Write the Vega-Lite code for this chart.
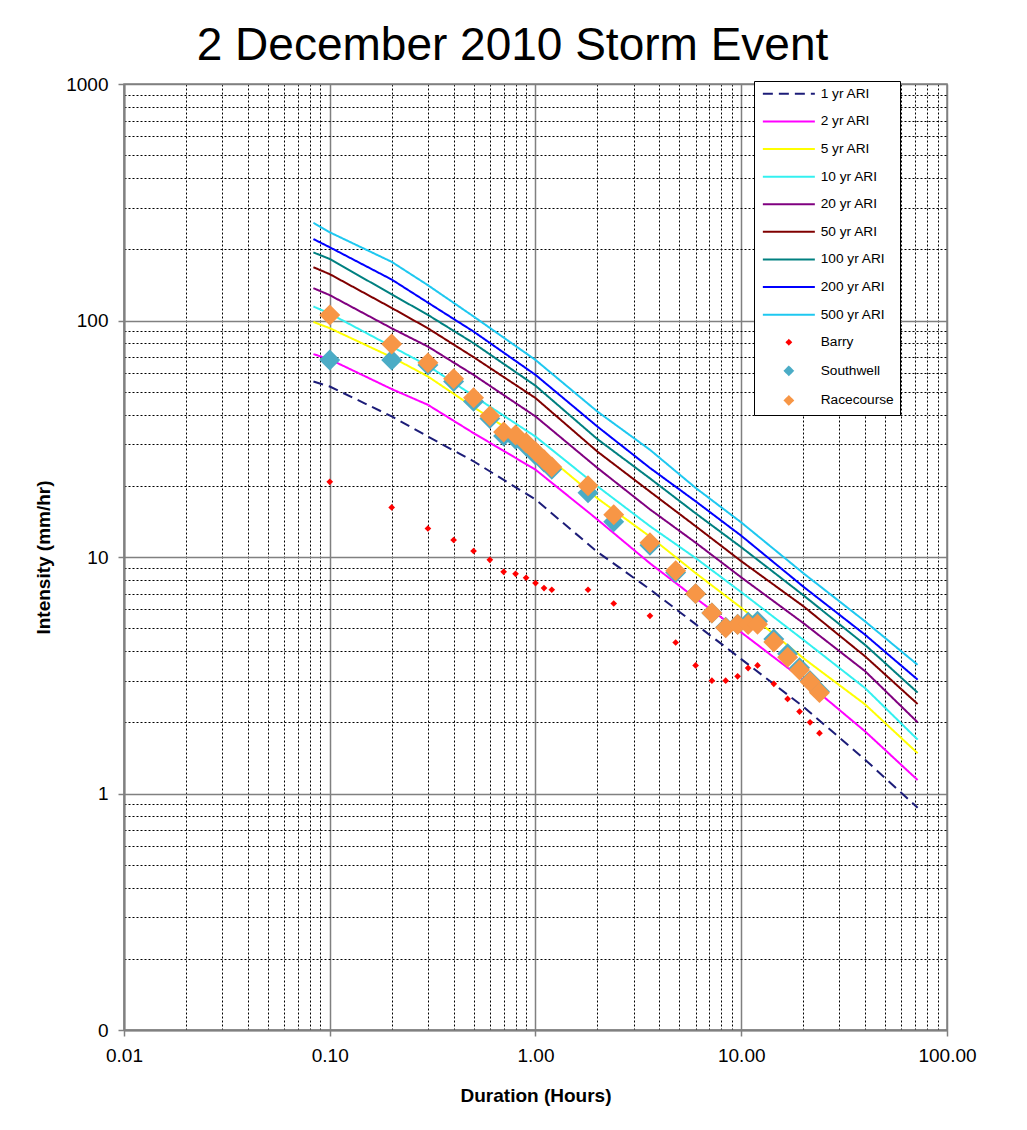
{
  "$schema": "https://vega.github.io/schema/vega-lite/v6.json",
  "autosize": {"type": "none"},
  "padding": {"left": 124, "top": 84, "right": 80, "bottom": 100},
  "width": 823,
  "height": 946,
  "background": "#ffffff",
  "config": {
    "font": "Liberation Sans",
    "view": {"stroke": "#808080", "strokeWidth": 1.5}
  },
  "title": {
    "text": "2 December 2010 Storm Event",
    "anchor": "middle",
    "fontSize": 46,
    "fontWeight": "normal",
    "color": "#000000",
    "font": "Liberation Sans",
    "dx": -23,
    "offset": 5
  },
  "datasets": {
    "ifd": [
      {"series": "1 yr ARI", "duration": 0.0833, "intensity": 55.2},
      {"series": "1 yr ARI", "duration": 0.1, "intensity": 52.6},
      {"series": "1 yr ARI", "duration": 0.2, "intensity": 39.3},
      {"series": "1 yr ARI", "duration": 0.3, "intensity": 32.3},
      {"series": "1 yr ARI", "duration": 0.5, "intensity": 25.4},
      {"series": "1 yr ARI", "duration": 1, "intensity": 17.5},
      {"series": "1 yr ARI", "duration": 2, "intensity": 10.5},
      {"series": "1 yr ARI", "duration": 3.6, "intensity": 7.3},
      {"series": "1 yr ARI", "duration": 6, "intensity": 5.2},
      {"series": "1 yr ARI", "duration": 10, "intensity": 3.7},
      {"series": "1 yr ARI", "duration": 20, "intensity": 2.33},
      {"series": "1 yr ARI", "duration": 40, "intensity": 1.39},
      {"series": "1 yr ARI", "duration": 72, "intensity": 0.87},
      {"series": "2 yr ARI", "duration": 0.0833, "intensity": 72.1},
      {"series": "2 yr ARI", "duration": 0.1, "intensity": 68.5},
      {"series": "2 yr ARI", "duration": 0.2, "intensity": 51.3},
      {"series": "2 yr ARI", "duration": 0.3, "intensity": 44},
      {"series": "2 yr ARI", "duration": 0.5, "intensity": 33.4},
      {"series": "2 yr ARI", "duration": 1, "intensity": 23.4},
      {"series": "2 yr ARI", "duration": 2, "intensity": 14.4},
      {"series": "2 yr ARI", "duration": 3.6, "intensity": 9.4},
      {"series": "2 yr ARI", "duration": 6, "intensity": 6.7},
      {"series": "2 yr ARI", "duration": 10, "intensity": 4.8},
      {"series": "2 yr ARI", "duration": 20, "intensity": 3.03},
      {"series": "2 yr ARI", "duration": 40, "intensity": 1.83},
      {"series": "2 yr ARI", "duration": 72, "intensity": 1.14},
      {"series": "5 yr ARI", "duration": 0.0833, "intensity": 98.6},
      {"series": "5 yr ARI", "duration": 0.1, "intensity": 92.8},
      {"series": "5 yr ARI", "duration": 0.2, "intensity": 70},
      {"series": "5 yr ARI", "duration": 0.3, "intensity": 58},
      {"series": "5 yr ARI", "duration": 0.5, "intensity": 43},
      {"series": "5 yr ARI", "duration": 1, "intensity": 29.3},
      {"series": "5 yr ARI", "duration": 2, "intensity": 17.7},
      {"series": "5 yr ARI", "duration": 3.6, "intensity": 12.2},
      {"series": "5 yr ARI", "duration": 6, "intensity": 8.55},
      {"series": "5 yr ARI", "duration": 10, "intensity": 6.1},
      {"series": "5 yr ARI", "duration": 20, "intensity": 3.74},
      {"series": "5 yr ARI", "duration": 40, "intensity": 2.38},
      {"series": "5 yr ARI", "duration": 72, "intensity": 1.48},
      {"series": "10 yr ARI", "duration": 0.0833, "intensity": 114.6},
      {"series": "10 yr ARI", "duration": 0.1, "intensity": 107},
      {"series": "10 yr ARI", "duration": 0.2, "intensity": 77.6},
      {"series": "10 yr ARI", "duration": 0.3, "intensity": 64.4},
      {"series": "10 yr ARI", "duration": 0.5, "intensity": 48},
      {"series": "10 yr ARI", "duration": 1, "intensity": 32.3},
      {"series": "10 yr ARI", "duration": 2, "intensity": 19.9},
      {"series": "10 yr ARI", "duration": 3.6, "intensity": 13.5},
      {"series": "10 yr ARI", "duration": 6, "intensity": 9.9},
      {"series": "10 yr ARI", "duration": 10, "intensity": 7.1},
      {"series": "10 yr ARI", "duration": 20, "intensity": 4.47},
      {"series": "10 yr ARI", "duration": 40, "intensity": 2.79},
      {"series": "10 yr ARI", "duration": 72, "intensity": 1.69},
      {"series": "20 yr ARI", "duration": 0.0833, "intensity": 137},
      {"series": "20 yr ARI", "duration": 0.1, "intensity": 128},
      {"series": "20 yr ARI", "duration": 0.2, "intensity": 92.7},
      {"series": "20 yr ARI", "duration": 0.3, "intensity": 77.6},
      {"series": "20 yr ARI", "duration": 0.5, "intensity": 58.9},
      {"series": "20 yr ARI", "duration": 1, "intensity": 39.3},
      {"series": "20 yr ARI", "duration": 2, "intensity": 23.8},
      {"series": "20 yr ARI", "duration": 3.6, "intensity": 15.9},
      {"series": "20 yr ARI", "duration": 6, "intensity": 11.5},
      {"series": "20 yr ARI", "duration": 10, "intensity": 8.2},
      {"series": "20 yr ARI", "duration": 20, "intensity": 5.26},
      {"series": "20 yr ARI", "duration": 40, "intensity": 3.29},
      {"series": "20 yr ARI", "duration": 72, "intensity": 2.0},
      {"series": "50 yr ARI", "duration": 0.0833, "intensity": 168},
      {"series": "50 yr ARI", "duration": 0.1, "intensity": 157},
      {"series": "50 yr ARI", "duration": 0.2, "intensity": 113},
      {"series": "50 yr ARI", "duration": 0.3, "intensity": 92.7},
      {"series": "50 yr ARI", "duration": 0.5, "intensity": 70},
      {"series": "50 yr ARI", "duration": 1, "intensity": 47},
      {"series": "50 yr ARI", "duration": 2, "intensity": 27.9},
      {"series": "50 yr ARI", "duration": 3.6, "intensity": 18.9},
      {"series": "50 yr ARI", "duration": 6, "intensity": 13.5},
      {"series": "50 yr ARI", "duration": 10, "intensity": 9.6},
      {"series": "50 yr ARI", "duration": 20, "intensity": 6.2},
      {"series": "50 yr ARI", "duration": 40, "intensity": 3.8},
      {"series": "50 yr ARI", "duration": 72, "intensity": 2.39},
      {"series": "100 yr ARI", "duration": 0.0833, "intensity": 194},
      {"series": "100 yr ARI", "duration": 0.1, "intensity": 182},
      {"series": "100 yr ARI", "duration": 0.2, "intensity": 129},
      {"series": "100 yr ARI", "duration": 0.3, "intensity": 105.6},
      {"series": "100 yr ARI", "duration": 0.5, "intensity": 80.2},
      {"series": "100 yr ARI", "duration": 1, "intensity": 53},
      {"series": "100 yr ARI", "duration": 2, "intensity": 31.5},
      {"series": "100 yr ARI", "duration": 3.6, "intensity": 21.5},
      {"series": "100 yr ARI", "duration": 6, "intensity": 15.3},
      {"series": "100 yr ARI", "duration": 10, "intensity": 11.0},
      {"series": "100 yr ARI", "duration": 20, "intensity": 6.9},
      {"series": "100 yr ARI", "duration": 40, "intensity": 4.25},
      {"series": "100 yr ARI", "duration": 72, "intensity": 2.67},
      {"series": "200 yr ARI", "duration": 0.0833, "intensity": 221},
      {"series": "200 yr ARI", "duration": 0.1, "intensity": 204},
      {"series": "200 yr ARI", "duration": 0.2, "intensity": 149},
      {"series": "200 yr ARI", "duration": 0.3, "intensity": 119},
      {"series": "200 yr ARI", "duration": 0.5, "intensity": 89.8},
      {"series": "200 yr ARI", "duration": 1, "intensity": 58.9},
      {"series": "200 yr ARI", "duration": 2, "intensity": 35.6},
      {"series": "200 yr ARI", "duration": 3.6, "intensity": 23.8},
      {"series": "200 yr ARI", "duration": 6, "intensity": 17.2},
      {"series": "200 yr ARI", "duration": 10, "intensity": 12.3},
      {"series": "200 yr ARI", "duration": 20, "intensity": 7.5},
      {"series": "200 yr ARI", "duration": 40, "intensity": 4.69},
      {"series": "200 yr ARI", "duration": 72, "intensity": 3.03},
      {"series": "500 yr ARI", "duration": 0.0833, "intensity": 259},
      {"series": "500 yr ARI", "duration": 0.1, "intensity": 236},
      {"series": "500 yr ARI", "duration": 0.2, "intensity": 177},
      {"series": "500 yr ARI", "duration": 0.3, "intensity": 141},
      {"series": "500 yr ARI", "duration": 0.5, "intensity": 104},
      {"series": "500 yr ARI", "duration": 1, "intensity": 68.1},
      {"series": "500 yr ARI", "duration": 2, "intensity": 41.2},
      {"series": "500 yr ARI", "duration": 3.6, "intensity": 28.4},
      {"series": "500 yr ARI", "duration": 6, "intensity": 19.6},
      {"series": "500 yr ARI", "duration": 10, "intensity": 14.0},
      {"series": "500 yr ARI", "duration": 20, "intensity": 8.55},
      {"series": "500 yr ARI", "duration": 40, "intensity": 5.34},
      {"series": "500 yr ARI", "duration": 72, "intensity": 3.5}
    ],
    "barry": [
      {"series": "Barry", "duration": 0.1, "intensity": 20.8},
      {"series": "Barry", "duration": 0.2, "intensity": 16.2},
      {"series": "Barry", "duration": 0.3, "intensity": 13.2},
      {"series": "Barry", "duration": 0.4, "intensity": 11.8},
      {"series": "Barry", "duration": 0.5, "intensity": 10.6},
      {"series": "Barry", "duration": 0.6, "intensity": 9.73},
      {"series": "Barry", "duration": 0.7, "intensity": 8.66},
      {"series": "Barry", "duration": 0.8, "intensity": 8.49},
      {"series": "Barry", "duration": 0.9, "intensity": 8.17},
      {"series": "Barry", "duration": 1.0, "intensity": 7.76},
      {"series": "Barry", "duration": 1.1, "intensity": 7.39},
      {"series": "Barry", "duration": 1.2, "intensity": 7.27},
      {"series": "Barry", "duration": 1.8, "intensity": 7.27},
      {"series": "Barry", "duration": 2.4, "intensity": 6.36},
      {"series": "Barry", "duration": 3.6, "intensity": 5.64},
      {"series": "Barry", "duration": 4.8, "intensity": 4.35},
      {"series": "Barry", "duration": 6.0, "intensity": 3.48},
      {"series": "Barry", "duration": 7.2, "intensity": 3.0},
      {"series": "Barry", "duration": 8.4, "intensity": 3.0},
      {"series": "Barry", "duration": 9.6, "intensity": 3.13},
      {"series": "Barry", "duration": 10.8, "intensity": 3.39},
      {"series": "Barry", "duration": 12.0, "intensity": 3.48},
      {"series": "Barry", "duration": 14.4, "intensity": 2.91},
      {"series": "Barry", "duration": 16.8, "intensity": 2.51},
      {"series": "Barry", "duration": 19.2, "intensity": 2.22},
      {"series": "Barry", "duration": 21.6, "intensity": 2.0},
      {"series": "Barry", "duration": 24.0, "intensity": 1.8}
    ],
    "stations": [
      {"series": "Southwell", "duration": 0.1, "intensity": 68},
      {"series": "Southwell", "duration": 0.2, "intensity": 68},
      {"series": "Southwell", "duration": 0.3, "intensity": 64.9},
      {"series": "Southwell", "duration": 0.4, "intensity": 55.2},
      {"series": "Southwell", "duration": 0.5, "intensity": 45.5},
      {"series": "Southwell", "duration": 0.6, "intensity": 38.5},
      {"series": "Southwell", "duration": 0.7, "intensity": 32.5},
      {"series": "Southwell", "duration": 0.8, "intensity": 31.5},
      {"series": "Southwell", "duration": 0.9, "intensity": 29.5},
      {"series": "Southwell", "duration": 1.0, "intensity": 27},
      {"series": "Southwell", "duration": 1.1, "intensity": 25.2},
      {"series": "Southwell", "duration": 1.2, "intensity": 23.5},
      {"series": "Southwell", "duration": 1.8, "intensity": 18.7},
      {"series": "Southwell", "duration": 2.4, "intensity": 14.1},
      {"series": "Southwell", "duration": 3.6, "intensity": 11.2},
      {"series": "Southwell", "duration": 4.8, "intensity": 8.6},
      {"series": "Southwell", "duration": 6.0, "intensity": 7.0},
      {"series": "Southwell", "duration": 7.2, "intensity": 5.8},
      {"series": "Southwell", "duration": 8.4, "intensity": 5.05},
      {"series": "Southwell", "duration": 9.6, "intensity": 5.2},
      {"series": "Southwell", "duration": 10.8, "intensity": 5.3},
      {"series": "Southwell", "duration": 12.0, "intensity": 5.35},
      {"series": "Southwell", "duration": 14.4, "intensity": 4.5},
      {"series": "Southwell", "duration": 16.8, "intensity": 3.9},
      {"series": "Southwell", "duration": 19.2, "intensity": 3.4},
      {"series": "Southwell", "duration": 21.6, "intensity": 3.0},
      {"series": "Southwell", "duration": 24.0, "intensity": 2.7},
      {"series": "Racecourse", "duration": 0.1, "intensity": 105.6},
      {"series": "Racecourse", "duration": 0.2, "intensity": 79.6},
      {"series": "Racecourse", "duration": 0.3, "intensity": 66.2},
      {"series": "Racecourse", "duration": 0.4, "intensity": 56.7},
      {"series": "Racecourse", "duration": 0.5, "intensity": 47.1},
      {"series": "Racecourse", "duration": 0.6, "intensity": 39.5},
      {"series": "Racecourse", "duration": 0.7, "intensity": 33.8},
      {"series": "Racecourse", "duration": 0.8, "intensity": 32.8},
      {"series": "Racecourse", "duration": 0.9, "intensity": 30.4},
      {"series": "Racecourse", "duration": 1.0, "intensity": 27.9},
      {"series": "Racecourse", "duration": 1.1, "intensity": 25.8},
      {"series": "Racecourse", "duration": 1.2, "intensity": 24.0},
      {"series": "Racecourse", "duration": 1.8, "intensity": 20.0},
      {"series": "Racecourse", "duration": 2.4, "intensity": 15.1},
      {"series": "Racecourse", "duration": 3.6, "intensity": 11.5},
      {"series": "Racecourse", "duration": 4.8, "intensity": 8.75},
      {"series": "Racecourse", "duration": 6.0, "intensity": 7.0},
      {"series": "Racecourse", "duration": 7.2, "intensity": 5.8},
      {"series": "Racecourse", "duration": 8.4, "intensity": 5.02},
      {"series": "Racecourse", "duration": 9.6, "intensity": 5.18},
      {"series": "Racecourse", "duration": 10.8, "intensity": 5.18},
      {"series": "Racecourse", "duration": 12.0, "intensity": 5.2},
      {"series": "Racecourse", "duration": 14.4, "intensity": 4.37},
      {"series": "Racecourse", "duration": 16.8, "intensity": 3.77},
      {"series": "Racecourse", "duration": 19.2, "intensity": 3.33},
      {"series": "Racecourse", "duration": 21.6, "intensity": 2.97},
      {"series": "Racecourse", "duration": 24.0, "intensity": 2.67}
    ]
  },
  "encoding": {
    "x": {
      "field": "duration",
      "type": "quantitative",
      "title": "Duration (Hours)",
      "scale": {"type": "log", "domain": [0.01, 100], "nice": false},
      "axis": {
        "values": [0.01, 0.02, 0.03, 0.04, 0.05, 0.06, 0.07, 0.08, 0.09, 0.1, 0.2, 0.3, 0.4, 0.5, 0.6, 0.7, 0.8, 0.9, 1, 2, 3, 4, 5, 6, 7, 8, 9, 10, 20, 30, 40, 50, 60, 70, 80, 90, 100],
        "labelExpr": "abs(log(datum.value)/LN10 - round(log(datum.value)/LN10)) < 0.001 ? format(datum.value, '.2f') : ''",
        "grid": true,
        "gridColor": {"condition": {"test": "abs(log(datum.value)/LN10 - round(log(datum.value)/LN10)) < 0.001", "value": "#808080"}, "value": "#000000"},
        "gridDash": {"condition": {"test": "abs(log(datum.value)/LN10 - round(log(datum.value)/LN10)) < 0.001", "value": []}, "value": [2, 2]},
        "gridWidth": {"condition": {"test": "abs(log(datum.value)/LN10 - round(log(datum.value)/LN10)) < 0.001", "value": 1.5}, "value": 1},
        "gridOpacity": 1,
        "tickColor": {"condition": {"test": "abs(log(datum.value)/LN10 - round(log(datum.value)/LN10)) < 0.001", "value": "#808080"}, "value": "transparent"},
        "tickSize": 6,
        "tickWidth": 1.5,
        "domainColor": "#808080",
        "domainWidth": 2,
        "labelFontSize": 19,
        "labelColor": "#000000",
        "labelPadding": 10,
        "labelFlush": false,
        "labelOverlap": false,
        "labelBound": false,
        "titleFontSize": 19,
        "titleFontWeight": "bold",
        "titleColor": "#000000",
        "titlePadding": 21
      }
    },
    "y": {
      "field": "intensity",
      "type": "quantitative",
      "title": "Intensity (mm/hr)",
      "scale": {"type": "log", "domain": [0.1, 1000], "nice": false},
      "axis": {
        "values": [0.1, 0.2, 0.3, 0.4, 0.5, 0.6, 0.7, 0.8, 0.9, 1, 2, 3, 4, 5, 6, 7, 8, 9, 10, 20, 30, 40, 50, 60, 70, 80, 90, 100, 200, 300, 400, 500, 600, 700, 800, 900, 1000],
        "labelExpr": "abs(log(datum.value)/LN10 - round(log(datum.value)/LN10)) < 0.001 ? (datum.value < 0.5 ? '0' : format(datum.value, 'd')) : ''",
        "grid": true,
        "gridColor": {"condition": {"test": "abs(log(datum.value)/LN10 - round(log(datum.value)/LN10)) < 0.001", "value": "#808080"}, "value": "#000000"},
        "gridDash": {"condition": {"test": "abs(log(datum.value)/LN10 - round(log(datum.value)/LN10)) < 0.001", "value": []}, "value": [2, 2]},
        "gridWidth": {"condition": {"test": "abs(log(datum.value)/LN10 - round(log(datum.value)/LN10)) < 0.001", "value": 1.5}, "value": 1},
        "gridOpacity": 1,
        "tickColor": {"condition": {"test": "abs(log(datum.value)/LN10 - round(log(datum.value)/LN10)) < 0.001", "value": "#808080"}, "value": "transparent"},
        "tickSize": 6,
        "tickWidth": 1.5,
        "domainColor": "#808080",
        "domainWidth": 2,
        "labelFontSize": 19,
        "labelColor": "#000000",
        "labelPadding": 10,
        "labelFlush": false,
        "labelOverlap": false,
        "labelBound": false,
        "titleFontSize": 19,
        "titleFontWeight": "bold",
        "titleColor": "#000000",
        "titlePadding": 12
      }
    },
    "color": {
      "field": "series",
      "type": "nominal",
      "scale": {
        "domain": ["1 yr ARI", "2 yr ARI", "5 yr ARI", "10 yr ARI", "20 yr ARI", "50 yr ARI", "100 yr ARI", "200 yr ARI", "500 yr ARI", "Barry", "Southwell", "Racecourse"],
        "range": ["#1c1c78", "#ff00ff", "#ffff00", "#33f0f0", "#800080", "#800000", "#008080", "#0000ff", "#1ec8f0", "#ff0000", "#4bacc6", "#f79646"]
      },
      "legend": {
        "title": null,
        "orient": "none",
        "legendX": 630,
        "legendY": -3,
        "fillColor": "#ffffff",
        "strokeColor": "#000000",
        "padding": 6,
        "labelFont": "Liberation Sans",
        "labelFontSize": 13.7,
        "labelColor": "#000000",
        "labelLimit": 200,
        "symbolSize": 64,
        "symbolStrokeWidth": 2,
        "symbolOpacity": 1,
        "symbolOffset": 22,
        "labelOffset": 25,
        "rowPadding": 12.6
      }
    }
  },
  "layer": [
    {
      "data": {"name": "ifd"},
      "mark": {"type": "line", "strokeWidth": 2},
      "encoding": {
        "strokeDash": {
          "field": "series",
          "type": "nominal",
          "scale": {
            "domain": ["1 yr ARI", "2 yr ARI", "5 yr ARI", "10 yr ARI", "20 yr ARI", "50 yr ARI", "100 yr ARI", "200 yr ARI", "500 yr ARI", "Barry", "Southwell", "Racecourse"],
            "range": [[10, 6], [1, 0], [1, 0], [1, 0], [1, 0], [1, 0], [1, 0], [1, 0], [1, 0], [1, 0], [1, 0], [1, 0]]
          }
        }
      }
    },
    {
      "data": {"name": "barry"},
      "mark": {"type": "point", "filled": true, "opacity": 1, "size": 180},
      "encoding": {
        "shape": {
          "field": "series",
          "type": "nominal",
          "scale": {
            "domain": ["1 yr ARI", "2 yr ARI", "5 yr ARI", "10 yr ARI", "20 yr ARI", "50 yr ARI", "100 yr ARI", "200 yr ARI", "500 yr ARI", "Barry", "Southwell", "Racecourse"],
            "range": ["M-6.5,0H6.5", "M-6.5,0H6.5", "M-6.5,0H6.5", "M-6.5,0H6.5", "M-6.5,0H6.5", "M-6.5,0H6.5", "M-6.5,0H6.5", "M-6.5,0H6.5", "M-6.5,0H6.5", "M-0.5,0L0,-0.5L0.5,0L0,0.5Z", "diamond", "diamond"]
          }
        }
      }
    },
    {
      "data": {"name": "stations"},
      "mark": {"type": "point", "filled": true, "opacity": 1, "size": 440},
      "encoding": {
        "shape": {
          "field": "series",
          "type": "nominal",
          "scale": {
            "domain": ["1 yr ARI", "2 yr ARI", "5 yr ARI", "10 yr ARI", "20 yr ARI", "50 yr ARI", "100 yr ARI", "200 yr ARI", "500 yr ARI", "Barry", "Southwell", "Racecourse"],
            "range": ["M-6.5,0H6.5", "M-6.5,0H6.5", "M-6.5,0H6.5", "M-6.5,0H6.5", "M-6.5,0H6.5", "M-6.5,0H6.5", "M-6.5,0H6.5", "M-6.5,0H6.5", "M-6.5,0H6.5", "M-0.5,0L0,-0.5L0.5,0L0,0.5Z", "diamond", "diamond"]
          }
        }
      }
    }
  ]
}
